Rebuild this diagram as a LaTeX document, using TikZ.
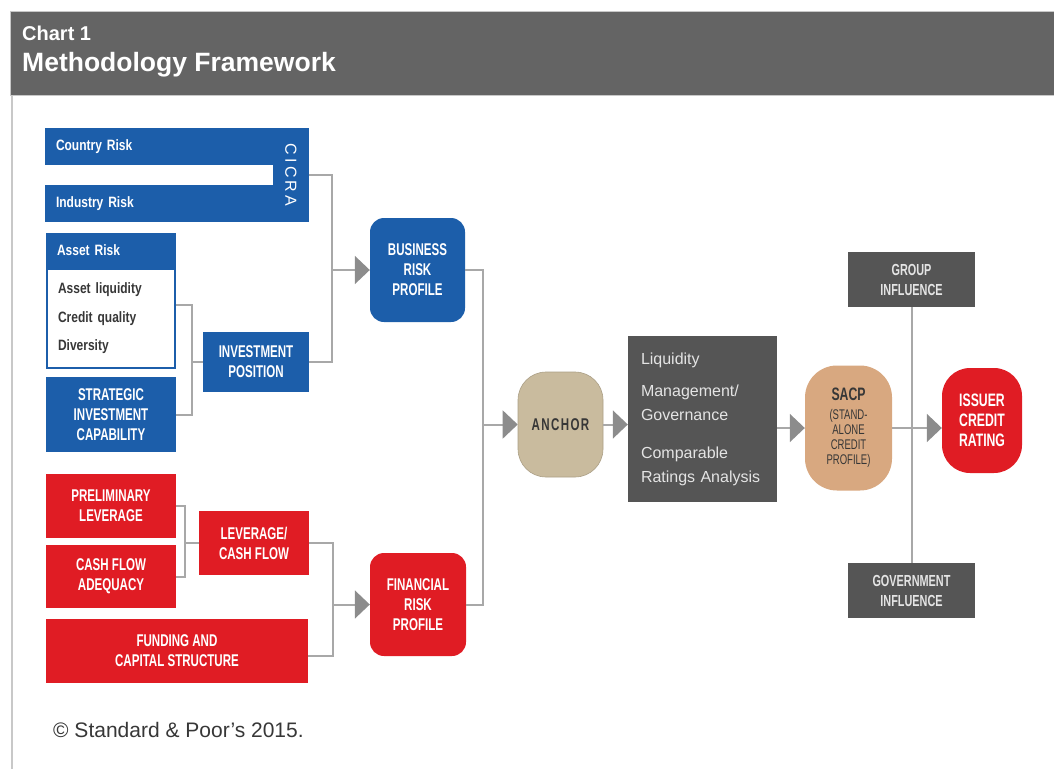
\documentclass[tikz,border=0pt]{standalone}
\usepackage{fontspec}
\setmainfont{Liberation Sans}
\newfontfamily\condfont[FakeStretch=0.68]{Liberation Sans}
\newfontfamily\narrowfont[FakeStretch=0.8]{Liberation Sans}
\newfontfamily\spacedfont[LetterSpace=20]{Liberation Sans}
\usetikzlibrary{positioning,arrows.meta}
\definecolor{spblue}{RGB}{28,94,170}
\definecolor{spred}{RGB}{224,28,36}
\definecolor{sptan}{RGB}{201,187,158}
\definecolor{sppeach}{RGB}{216,168,128}
\definecolor{spdark}{RGB}{85,85,85}
\definecolor{headgray}{RGB}{100,100,100}
\definecolor{framegray}{RGB}{200,200,200}
\definecolor{linegray}{RGB}{168,168,168}
\definecolor{tipgray}{RGB}{140,140,140}
\definecolor{paletext}{RGB}{228,228,228}
\definecolor{inktext}{RGB}{55,55,55}
\newcommand\boxcaps{\condfont\bfseries\fontsize{17}{20}\selectfont}
\newcommand\mixfont{\narrowfont\bfseries\fontsize{15}{18}\selectfont}
\tikzset{
  box/.style={inner sep=0pt,align=center,text=white,font=\boxcaps},
  bluebox/.style={box,fill=spblue},
  redbox/.style={box,fill=spred},
  darkbox/.style={box,fill=spdark,text=paletext},
  link/.style={draw=linegray,line width=2pt},
  flow/.style={link,-{Triangle[length=15pt,width=28pt,color=tipgray]}}
}

\begin{document}
\begin{tikzpicture}[x=1pt,y=-1pt]
  \useasboundingbox (0,0) rectangle (1054,769);
  % title band and frame
  \draw[framegray,line width=2.5pt] (12,95) -- (12,769);
  \draw[framegray,fill=headgray,line width=1pt] (10,11) rectangle (1060,95);
  \node[anchor=base west,inner sep=0pt,text=white,font=\bfseries\fontsize{20}{22}\selectfont] (charttag) at (22,40) {Chart 1};
  \node[anchor=base west,inner sep=0pt,text=white,font=\bfseries\fontsize{26.5}{28}\selectfont] (charttitle) at (22,71) {Methodology Framework};

  % business risk inputs
  \node[bluebox,minimum width=228pt,minimum height=37pt,inner xsep=11pt,text width=206pt,align=left,font=\mixfont] (country) at (159,146.5) {Country Risk};
  \node[bluebox,minimum width=228pt,minimum height=37pt,inner xsep=11pt,text width=206pt,align=left,font=\mixfont] (industry) at (159,203.5) {Industry Risk};
  \node[bluebox,minimum width=36pt,minimum height=94pt,font=\spacedfont\fontsize{16}{18}\selectfont] (cicra) at (291,175) {\rotatebox{-90}{CICRA}};
  \node[bluebox,minimum width=130pt,minimum height=35pt,inner xsep=11pt,text width=108pt,align=left,font=\mixfont] (assetrisk) at (111,250.5) {Asset Risk};
  \node[draw=spblue,line width=2pt,fill=white,minimum width=128pt,minimum height=99pt,inner xsep=11pt,text width=106pt,align=left,text=inktext,font={\narrowfont\bfseries\fontsize{15}{28.5}\selectfont}] (assetlist) at (111,318.5) {Asset liquidity\\Credit quality\\Diversity};
  \node[bluebox,minimum width=130pt,minimum height=75pt] (strategic) at (111,414.5) {STRATEGIC\\INVESTMENT\\CAPABILITY};
  \node[bluebox,minimum width=106pt,minimum height=60pt] (invest) at (256,362) {INVESTMENT\\POSITION};
  \node[bluebox,rounded corners=14pt,minimum width=95pt,minimum height=104pt] (business) at (417.5,270) {BUSINESS\\RISK\\PROFILE};

  % financial risk inputs
  \node[redbox,minimum width=130pt,minimum height=64pt] (prelim) at (111,506) {PRELIMINARY\\LEVERAGE};
  \node[redbox,minimum width=130pt,minimum height=63pt] (cashflow) at (111,576.5) {CASH FLOW\\ADEQUACY};
  \node[redbox,minimum width=262pt,minimum height=64pt] (funding) at (177,651) {FUNDING AND\\CAPITAL STRUCTURE};
  \node[redbox,minimum width=110pt,minimum height=64pt] (levcash) at (254,543) {LEVERAGE/\\CASH FLOW};
  \node[redbox,rounded corners=14pt,minimum width=96pt,minimum height=103pt] (financial) at (418,604.5) {FINANCIAL\\RISK\\PROFILE};

  % anchor to rating
  \node[box,fill=sptan,draw=sptan!85!black,line width=0.6pt,rounded corners=28pt,minimum width=85pt,minimum height=105pt,text=inktext,font={\condfont\bfseries\fontsize{17}{20}\selectfont\addfontfeature{LetterSpace=8}}] (anchorbox) at (560.5,424.5) {ANCHOR};
  \node[darkbox,minimum width=149pt,minimum height=166pt,inner xsep=13pt,text width=123pt,align=left,font={\fontsize{16}{24}\selectfont}] (mgmt) at (702.5,419) {Liquidity\\[8pt]Management/\\Governance\\[14pt]Comparable\\Ratings Analysis};
  \node[box,fill=sppeach,rounded corners=32pt,minimum width=87pt,minimum height=125pt,text=inktext,font={\condfont\fontsize{14}{15}\selectfont}] (sacp) at (848.5,428) {{\bfseries\fontsize{18}{20}\selectfont SACP}\\[4pt](STAND-\\ALONE\\CREDIT\\PROFILE)};
  \node[redbox,rounded corners=28pt,minimum width=80pt,minimum height=105pt,font={\condfont\bfseries\fontsize{18}{20}\selectfont}] (issuer) at (982,420.5) {ISSUER\\CREDIT\\RATING};
  \node[darkbox,minimum width=127pt,minimum height=55pt,font={\condfont\bfseries\fontsize{16}{20}\selectfont}] (group) at (911.5,279.5) {GROUP\\INFLUENCE};
  \node[darkbox,minimum width=127pt,minimum height=55pt,font={\condfont\bfseries\fontsize{16}{20}\selectfont}] (government) at (911.5,590.5) {GOVERNMENT\\INFLUENCE};

  % connectors
  \coordinate (bizjoin) at (332,270);
  \draw[link] (cicra.east) -| (bizjoin);
  \draw[link] (invest.east) -| (bizjoin);
  \draw[flow] (bizjoin) -- (business.west);
  \coordinate (invjoin) at (192,362);
  \draw[link] ([yshift=14pt]assetlist.east) -| (invjoin);
  \draw[link] (strategic.east) -| (invjoin);
  \draw[link] (invjoin) -- (invest.west);
  \coordinate (levjoin) at (185,543);
  \draw[link] (prelim.east) -| (levjoin);
  \draw[link] (cashflow.east) -| (levjoin);
  \draw[link] (levjoin) -- (levcash.west);
  \coordinate (finjoin) at (333,604.5);
  \draw[link] (levcash.east) -| (finjoin);
  \draw[link] ([yshift=-5pt]funding.east) -| (finjoin);
  \draw[flow] (finjoin) -- (financial.west);
  \coordinate (anchjoin) at (483,424.5);
  \draw[link] (business.east) -| (anchjoin);
  \draw[link] (financial.east) -| (anchjoin);
  \draw[flow] (anchjoin) -- (anchorbox.west);
  \draw[flow] (anchorbox.east) -- (anchorbox.east -| mgmt.west);
  \draw[flow] (mgmt.east |- sacp.west) -- (sacp.west);
  \draw[link] (group.south) -- (government.north);
  \draw[flow] (sacp.east) -- (sacp.east -| issuer.west);

  \node[anchor=base west,inner sep=0pt,text=inktext,font=\fontsize{21}{24}\selectfont] (credit) at (53,737) {© Standard \& Poor’s 2015.};
\end{tikzpicture}
\end{document}
